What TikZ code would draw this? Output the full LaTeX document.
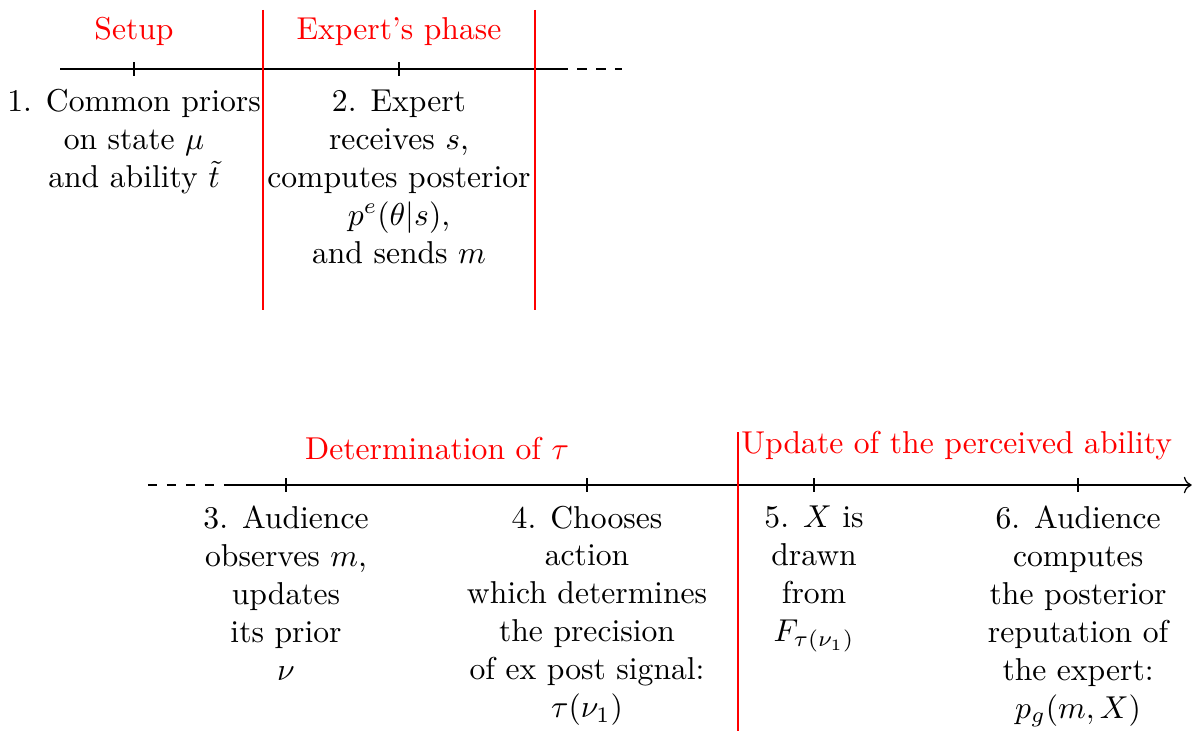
\documentclass[tikz,border=0pt]{standalone}
\usetikzlibrary{arrows.meta, positioning}

\begin{document}
\begin{tikzpicture}[
   event/.style={align=center},
   phase/.style={text=red},
   cut/.style={red, thick},
   tickmark/.style={thin}]
\useasboundingbox (0,0) rectangle (13.31,-8.12);

% first part of the timeline
\coordinate (ua) at (0.667,-0.767);
\coordinate (ub) at (6.2,-0.767);
\coordinate (uc) at (6.91,-0.767);
\draw (ua) -- (ub);
\draw[dashed] (ub) -- (uc);

\coordinate (t1) at (1.489,-0.767);
\coordinate (t2) at (4.433,-0.767);

% second part of the timeline
\coordinate (la) at (1.644,-5.389);
\coordinate (lb) at (2.5,-5.389);
\coordinate (lc) at (13.24,-5.389);
\draw[dashed] (la) -- (lb);
\draw[->] (lb) -- (lc);

\coordinate (t3) at (3.178,-5.389);
\coordinate (t4) at (6.522,-5.389);
\coordinate (t5) at (9.044,-5.389);
\coordinate (t6) at (11.978,-5.389);

\foreach \t in {t1,t2,t3,t4,t5,t6}
  \draw[tickmark] ([yshift=2.2pt]\t) -- ([yshift=-2.2pt]\t);

% phases
\draw[cut] (2.922,-0.111) coordinate (c1a) -- (2.922,-3.444) coordinate (c1b);
\draw[cut] (5.944,-0.111) coordinate (c2a) -- (5.944,-3.444) coordinate (c2b);
\draw[cut] (8.2,-4.8) coordinate (c3a) -- (8.2,-8.12) coordinate (c3b);

\node[phase] (setup) at (1.489,-0.35) {Setup};
\node[phase] (expph) at (4.433,-0.35) {Expert's phase};
\node[phase] (detph) at (4.856,-4.978) {Determination of $\tau$};
\node[phase, anchor=west, inner sep=0pt] (updph) at (8.23,-4.956)
  {Update of the perceived ability};

% events
\node[event, below=3pt of t1] (e1)
  {1. Common priors\\ on state $\mu$\\ and ability $\tilde t$};
\node[event, below=3pt of t2] (e2)
  {2. Expert\\ receives $s$,\\ computes posterior\\ $p^e(\theta|s)$,\\ and sends $m$};
\node[event, below=3pt of t3] (e3)
  {3. Audience\\ observes $m$,\\ updates\\ its prior\\ $\nu$};
\node[event, below=3pt of t4] (e4)
  {4. Chooses\\ action\\ which determines\\ the precision\\ of ex post signal:\\ $\tau(\nu_1)$};
\node[event, below=3pt of t5] (e5)
  {5. $X$ is\\ drawn\\ from\\ $F_{\tau(\nu_1)}$};
\node[event, below=3pt of t6] (e6)
  {6. Audience\\ computes\\ the posterior\\ reputation of\\ the expert:\\ $p_g(m,X)$};
\end{tikzpicture}
\end{document}
